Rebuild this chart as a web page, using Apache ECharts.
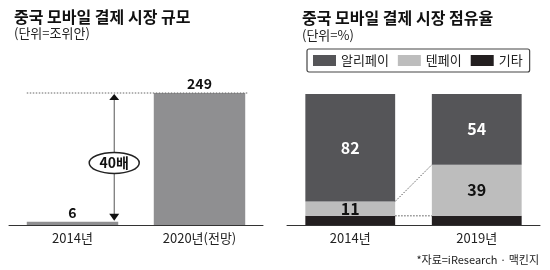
<!DOCTYPE html>
<html><head><meta charset="utf-8">
<script src="https://cdn.jsdelivr.net/npm/echarts@6/dist/echarts.min.js"></script>
<style>html,body{margin:0;padding:0;background:#fff}#c{width:550px;height:270px}</style>
</head><body><div id="c"></div>
<script>
const sizeCats = ['2014년', '2020년(전망)'];
const marketSize = [6, 249];
const growthLabel = '40배';
const shareCats = ['2014년', '2019년'];
const alipay = [82, 54];
const tenpay = [11, 39];
const others = [7, 7];
const seriesNames = ['알리페이', '텐페이', '기타'];

const FONT = '"Noto Sans CJK KR", sans-serif';
const chart = echarts.init(document.getElementById('c'));
const BARW = 0.72;

// connector data: top of 기타 and top of 텐페이 on each bar
const tenTop = tenpay.map((v, i) => v + others[i]);
const connectors = [[0, 1, tenTop[0], tenTop[1]], [0, 1, others[0], others[1]]];

chart.setOption({
  animation: false,
  textStyle: { fontFamily: FONT },
  title: [
    { text: '중국 모바일 결제 시장 규모', left: 9, top: 4, textStyle: { fontFamily: FONT, fontSize: 16, fontWeight: 'bold', color: '#111' } },
    { text: '(단위=조위안)', left: 9, top: 22, textStyle: { fontFamily: FONT, fontSize: 13, fontWeight: 'normal', color: '#222' } },
    { text: '중국 모바일 결제 시장 점유율', left: 297, top: 5, textStyle: { fontFamily: FONT, fontSize: 16, fontWeight: 'bold', color: '#111' } },
    { text: '(단위=%)', left: 297, top: 24, textStyle: { fontFamily: FONT, fontSize: 13, fontWeight: 'normal', color: '#222' } },
    { text: '*자료=iResearch · 맥킨지', right: 6, top: 249, textStyle: { fontFamily: FONT, fontSize: 11, fontWeight: 'normal', color: '#222' } }
  ],
  legend: {
    data: seriesNames, left: 307, top: 49,
    padding: [5, 7, 5, 6], itemGap: 9, itemWidth: 23, itemHeight: 11, icon: 'rect',
    borderColor: '#444', borderWidth: 1.2, borderRadius: 2,
    textStyle: { fontFamily: FONT, fontSize: 13, color: '#222' }
  },
  grid: [
    { left: 9, width: 254, top: 93, height: 132 },
    { left: 287, width: 253, top: 94, height: 131 }
  ],
  xAxis: [
    { gridIndex: 0, type: 'category', data: sizeCats, axisTick: { show: false },
      axisLine: { lineStyle: { color: '#333', width: 1 } },
      axisLabel: { fontFamily: FONT, fontSize: 13, color: '#222', margin: 7 } },
    { gridIndex: 1, type: 'category', data: shareCats, axisTick: { show: false },
      axisLine: { lineStyle: { color: '#333', width: 1 } },
      axisLabel: { fontFamily: FONT, fontSize: 13, color: '#222', margin: 7 } }
  ],
  yAxis: [
    { gridIndex: 0, type: 'value', min: 0, max: 249, show: false },
    { gridIndex: 1, type: 'value', min: 0, max: 100, show: false }
  ],
  series: [
    { type: 'bar', xAxisIndex: 0, yAxisIndex: 0, data: marketSize, barWidth: '72%',
      itemStyle: { color: '#8f8f91' },
      label: { show: true, position: 'top', distance: 2, fontFamily: FONT, fontSize: 14, fontWeight: 'bold', color: '#111' } },
    { type: 'custom', xAxisIndex: 0, yAxisIndex: 0, data: [[0, 1, marketSize[0], marketSize[1]]], silent: true, z: 5,
      renderItem: function (params, api) {
        const bw = api.size([1, 0])[0] * BARW;
        const p0 = api.coord([api.value(0), api.value(3)]);
        const p1 = api.coord([api.value(1), api.value(3)]);
        const base = api.coord([api.value(0), 0]);
        const lowTop = api.coord([api.value(0), api.value(2)]);
        const ax = p0[0] + bw / 2 - 4;
        const top = p0[1], bot = lowTop[1] - 1;
        const cy = top + (base[1] - top) * 0.53;
        return { type: 'group', children: [
          { type: 'line', shape: { x1: p0[0] - bw / 2, y1: top, x2: p1[0] + bw / 2 + 3, y2: top },
            style: { stroke: '#666', lineWidth: 1, lineDash: [1.5, 1.5] } },
          { type: 'line', shape: { x1: ax, y1: top + 4, x2: ax, y2: bot - 4 }, style: { stroke: '#555', lineWidth: 1 } },
          { type: 'polygon', shape: { points: [[ax, top + 1], [ax - 5, top + 7], [ax + 5, top + 7]] }, style: { fill: '#111' } },
          { type: 'polygon', shape: { points: [[ax, bot], [ax - 5, bot - 7], [ax + 5, bot - 7]] }, style: { fill: '#111' } },
          { type: 'ellipse', shape: { cx: ax, cy: cy, rx: 25, ry: 10.5 }, style: { fill: '#fff', stroke: '#222', lineWidth: 1.5 } },
          { type: 'text', x: ax, y: cy, style: { text: growthLabel, align: 'center', verticalAlign: 'middle', fontFamily: FONT, fontSize: 14, fontWeight: 'bold', fill: '#111' } }
        ] };
      } },
    { name: '기타', type: 'bar', stack: 's', xAxisIndex: 1, yAxisIndex: 1, data: others, barWidth: '71%',
      itemStyle: { color: '#231f20' } },
    { name: '텐페이', type: 'bar', stack: 's', xAxisIndex: 1, yAxisIndex: 1, data: tenpay, barWidth: '71%',
      itemStyle: { color: '#bdbdbd' },
      label: { show: true, position: 'inside', fontFamily: FONT, fontSize: 16, fontWeight: 'bold', color: '#111' } },
    { name: '알리페이', type: 'bar', stack: 's', xAxisIndex: 1, yAxisIndex: 1, data: alipay, barWidth: '71%',
      itemStyle: { color: '#555558' },
      label: { show: true, position: 'inside', fontFamily: FONT, fontSize: 16, fontWeight: 'bold', color: '#fff' } },
    { type: 'custom', xAxisIndex: 1, yAxisIndex: 1, data: connectors, silent: true, z: 5,
      renderItem: function (params, api) {
        const bw = api.size([1, 0])[0] * 0.71;
        const a = api.coord([api.value(0), api.value(2)]);
        const b = api.coord([api.value(1), api.value(3)]);
        return { type: 'line', shape: { x1: a[0] + bw / 2, y1: a[1], x2: b[0] - bw / 2, y2: b[1] },
          style: { stroke: '#555', lineWidth: 1, lineDash: [1.5, 1.5] } };
      } }
  ]
});
</script></body></html>
